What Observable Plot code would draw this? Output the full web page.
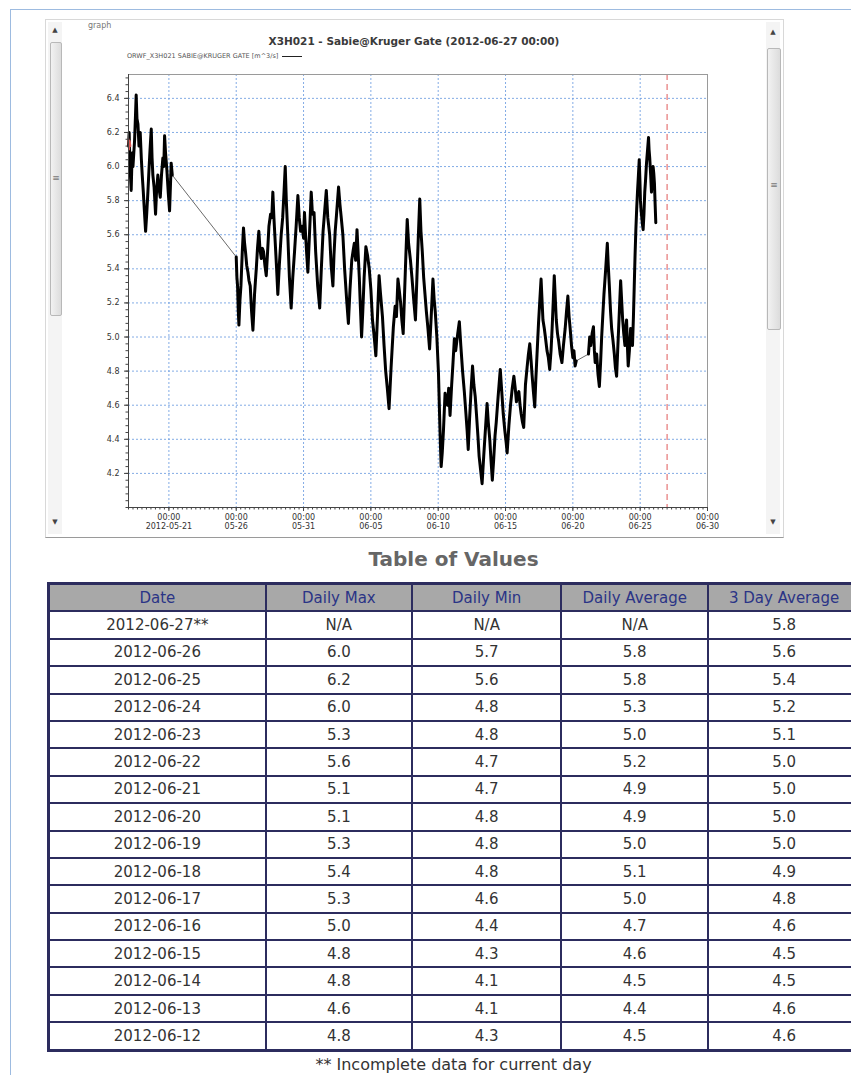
<!DOCTYPE html>
<html>
<head>
<meta charset="utf-8">
<script src="https://cdn.jsdelivr.net/npm/d3@7"></script>
<script src="https://cdn.jsdelivr.net/npm/@observablehq/plot@0.6"></script>
<style>
  html, body { margin: 0; padding: 0; background: #fff; }
  body { width: 851px; height: 1075px; overflow: hidden; position: relative; font-family: "DejaVu Sans", Verdana, sans-serif; }
  .abs { position: absolute; }
  #pageframe { left: 10px; top: 9px; width: 900px; height: 1100px; border-left: 1px solid #9dbbe0; border-top: 1px solid #9dbbe0; }
  #panel { left: 45px; top: 19px; width: 737px; height: 517px; border: 1px solid #d8d8d8; border-bottom: 1px solid #9a9a9a; }
  .sbar { width: 14px; background: #f4f4f4; }
  .thumb { background: linear-gradient(to right, #f2f2f2, #dcdcdc); border: 1px solid #b8b8b8; border-radius: 2px; }
  .grip { font-size: 9px; color: #777; text-align: center; width: 100%; }
  .arrow { font-size: 7px; color: #444; width: 14px; text-align: center; }
  #graphlbl { left: 88px; top: 21px; font-size: 8px; color: #777; }
  #title { left: 45px; width: 738px; top: 35px; text-align: center; font-size: 10.5px; font-weight: bold; color: #3a3a3a; }
  #legend { left: 127px; top: 52px; font-size: 6.5px; color: #555; white-space: nowrap; }
  #legend .sw { display: inline-block; width: 20px; height: 0; border-top: 1px solid #222; vertical-align: middle; margin-left: 4px; }
  #chart { left: 60px; top: 62px; }
  #tabtitle { left: 47px; width: 813px; top: 547px; text-align: center; font-size: 20px; font-weight: bold; color: #666; }
  table { position: absolute; left: 47px; top: 582px; width: 815px; border-collapse: collapse; border: 3px solid #2c2c5e; }
  th, td { border: 2px solid #2c2c5e; text-align: center; height: 25.4px; padding: 0; font-size: 15px; }
  th { background: #a8a8a8; color: #2b3486; font-weight: normal; }
  td { color: #333; background: #fff; }
  #foot { left: 47px; width: 813px; top: 1055px; text-align: center; font-size: 16px; color: #333; }
</style>
</head>
<body>
<div id="pageframe" class="abs"></div>
<div id="panel" class="abs"></div>

<div class="abs sbar" style="left:48px; top:22px; height:512px;"></div>
<div class="abs arrow" style="left:48px; top:26px;">▲</div>
<div class="abs thumb" style="left:50px; top:42px; width:10px; height:272px;"></div>
<div class="abs grip" style="left:50px; top:173px; width:12px;">≡</div>
<div class="abs arrow" style="left:48px; top:518px;">▼</div>

<div class="abs sbar" style="left:766px; top:22px; height:512px;"></div>
<div class="abs arrow" style="left:766px; top:28px;">▲</div>
<div class="abs thumb" style="left:767px; top:48px; width:12px; height:280px;"></div>
<div class="abs grip" style="left:767px; top:180px; width:14px;">≡</div>
<div class="abs arrow" style="left:766px; top:518px;">▼</div>

<div id="graphlbl" class="abs">graph</div>
<div id="title" class="abs">X3H021 - Sabie@Kruger Gate (2012-06-27 00:00)</div>
<div id="legend" class="abs">ORWF_X3H021 SABIE@KRUGER GATE [m^3/s]<span class="sw"></span></div>
<div id="chart" class="abs"></div>

<div id="tabtitle" class="abs">Table of Values</div>
<table id="tbl"></table>
<div id="foot" class="abs">** Incomplete data for current day</div>

<script>
// ---------------- chart data ----------------
const seriesStart = "2012-05-18T00:00Z";   // day offsets are counted from here
const currentTime = "2012-06-27T00:00Z";
const xDomain = ["2012-05-18T00:00Z", "2012-06-30T00:00Z"];
const yDomain = [4.0, 6.54];

const dayOffsets = [
  0.00,0.05,0.10,0.20,0.27,0.33,0.45,0.52,0.57,0.63,0.70,0.78,0.87,0.95,1.02,1.10,1.18,1.27,1.35,1.44,
  1.52,1.60,1.69,1.75,1.81,1.90,2.01,2.08,2.18,2.25,2.36,2.45,2.55,2.62,2.68,2.75,2.85,2.95,3.05,3.12,3.17,3.25,
  8.00,8.05,8.10,8.15,8.20,8.28,8.35,8.45,8.54,8.62,8.69,8.78,8.87,8.95,9.04,9.14,9.24,9.30,9.36,9.42,9.49,9.58,
  9.68,9.76,9.86,9.95,10.03,10.13,10.23,10.33,10.43,10.55,10.64,10.72,10.80,10.90,11.00,11.09,11.20,11.34,11.45,
  11.55,11.64,11.72,11.83,11.95,12.08,12.20,12.33,12.45,12.58,12.68,12.78,12.90,13.00,13.07,13.15,13.24,13.32,
  13.45,13.57,13.66,13.78,13.90,14.05,14.20,14.32,14.45,14.58,14.69,14.80,14.94,15.05,15.18,15.26,15.35,15.45,
  15.60,15.70,15.80,15.92,16.05,16.20,16.33,16.45,16.58,16.67,16.77,16.87,16.97,17.05,17.14,17.22,17.31,17.40,
  17.50,17.63,17.75,17.88,18.00,18.12,18.25,18.37,18.48,18.61,18.72,18.86,18.98,19.10,19.22,19.35,19.50,19.67,
  19.80,19.90,20.01,20.10,20.21,20.30,20.40,20.50,20.60,20.70,20.80,20.94,21.05,21.18,21.31,21.42,21.52,21.63,
  21.72,21.82,21.92,22.02,22.12,22.24,22.36,22.48,22.61,22.70,22.78,22.90,23.02,23.10,23.16,23.22,23.30,23.39,
  23.51,23.60,23.69,23.78,23.88,24.00,24.10,24.20,24.30,24.45,24.57,24.68,24.81,24.94,25.06,25.15,25.23,25.33,
  25.45,25.55,25.65,25.75,25.84,25.95,26.04,26.15,26.26,26.38,26.50,26.63,26.72,26.83,26.92,27.02,27.12,27.22,
  27.31,27.45,27.61,27.72,27.83,27.95,28.05,28.12,28.25,28.37,28.50,28.62,28.72,28.81,28.90,28.99,29.08,29.16,
  29.26,29.35,29.42,29.48,29.60,29.70,29.80,29.90,29.97,30.07,30.17,30.25,30.34,30.45,30.55,30.64,30.72,30.78,
  30.88,30.96,31.08,31.18,31.28,31.38,31.46,31.55,31.62,31.70,31.77,31.86,31.94,32.06,32.19,32.30,32.43,32.53,
  32.63,32.72,32.80,32.90,33.00,33.08,33.17,33.25,
  34.16,34.25,34.33,34.43,34.53,34.60,34.66,34.77,34.87,34.97,35.06,35.14,35.22,35.31,35.44,35.56,35.63,35.71,
  35.80,35.88,35.98,36.08,36.16,36.25,36.33,36.40,36.48,36.55,36.62,36.70,36.78,36.87,36.93,36.99,37.05,37.11,
  37.20,37.29,37.36,37.43,37.50,37.56,37.62,37.68,37.74,37.80,37.87,37.93,37.98,38.02,38.07,38.12,38.17,38.22,
  38.28,38.34,38.40,38.47,38.55,38.62,38.66,38.71,38.78,38.84,38.90,38.96,39.01,39.06,39.11,39.16
];
const flows = [
  6.12,6.20,6.02,5.86,6.08,6.00,6.15,6.30,6.42,6.28,6.25,6.12,6.20,6.05,5.95,5.85,5.74,5.62,5.72,5.85,
  5.98,6.10,6.22,6.05,5.95,5.88,5.72,5.85,5.95,5.88,5.82,5.95,6.05,6.00,6.18,6.08,5.98,5.85,5.74,5.90,6.02,5.95,
  5.47,5.35,5.30,5.16,5.07,5.22,5.30,5.50,5.64,5.55,5.50,5.42,5.38,5.33,5.30,5.15,5.04,5.14,5.25,5.32,5.40,5.52,
  5.62,5.52,5.46,5.52,5.50,5.42,5.36,5.50,5.65,5.72,5.70,5.85,5.70,5.55,5.40,5.25,5.42,5.60,5.70,
  5.85,6.00,5.80,5.60,5.35,5.17,5.35,5.50,5.65,5.83,5.70,5.62,5.65,5.58,5.73,5.60,5.48,5.38,
  5.62,5.85,5.72,5.73,5.50,5.30,5.17,5.40,5.62,5.75,5.86,5.70,5.60,5.42,5.30,5.48,5.62,5.72,
  5.88,5.78,5.70,5.60,5.40,5.22,5.08,5.28,5.45,5.50,5.55,5.45,5.63,5.50,5.35,5.18,5.00,5.15,
  5.35,5.53,5.48,5.40,5.28,5.10,5.00,4.89,5.10,5.36,5.25,5.12,4.95,4.80,4.70,4.58,4.82,5.06,
  5.18,5.12,5.34,5.28,5.20,5.10,5.02,5.25,5.48,5.69,5.55,5.45,5.35,5.22,5.10,5.35,5.58,5.81,
  5.62,5.50,5.35,5.25,5.15,5.05,4.93,5.12,5.34,5.22,5.15,5.00,4.79,4.55,4.38,4.24,4.32,4.45,
  4.67,4.62,4.60,4.70,4.54,4.72,4.85,4.99,4.92,5.02,5.09,4.95,4.80,4.68,4.55,4.45,4.34,4.52,
  4.70,4.83,4.72,4.65,4.55,4.42,4.30,4.22,4.14,4.30,4.45,4.61,4.50,4.40,4.28,4.16,4.28,4.42,
  4.50,4.65,4.81,4.68,4.55,4.45,4.38,4.32,4.48,4.60,4.70,4.77,4.70,4.62,4.66,4.68,4.60,4.55,
  4.50,4.47,4.60,4.72,4.82,4.90,4.96,4.86,4.78,4.68,4.59,4.75,4.90,5.08,5.22,5.34,5.20,5.10,
  5.05,5.00,4.92,4.88,4.81,4.92,5.05,5.22,5.36,5.22,5.10,5.02,4.98,4.90,4.85,4.95,5.05,5.15,
  5.24,5.12,5.05,4.95,4.88,4.92,4.83,4.86,
  4.90,5.00,4.95,5.02,5.06,4.92,4.85,4.90,4.78,4.71,4.85,5.00,5.12,5.25,5.40,5.55,5.42,5.30,
  5.15,5.05,4.98,4.90,4.82,4.77,4.92,5.05,5.20,5.33,5.22,5.10,5.02,4.95,5.05,5.10,4.95,4.83,
  4.92,5.05,5.00,4.95,5.12,5.30,5.48,5.63,5.75,5.85,5.95,6.04,5.92,5.80,5.74,5.70,5.66,5.63,
  5.72,5.85,5.92,6.02,6.10,6.17,6.10,6.05,5.95,5.85,5.92,6.00,5.96,5.90,5.78,5.67
];
// periods without recorded data (bridged by a straight connector in the chart)
const gaps = [[3.25, 8.00], [33.25, 34.16]];

// short red trace visible at the very start of the chart
const redDays  = [0.00, 0.04, 0.09, 0.14];
const redFlows = [6.16, 6.10, 6.15, 6.12];

const xTickDates  = ["2012-05-21","2012-05-26","2012-05-31","2012-06-05","2012-06-10","2012-06-15","2012-06-20","2012-06-25","2012-06-30"];
const xTickLabels = ["2012-05-21","05-26","05-31","06-05","06-10","06-15","06-20","06-25","06-30"];
const xTickTime   = "00:00";
const yTicks      = [4.2, 4.4, 4.6, 4.8, 5.0, 5.2, 5.4, 5.6, 5.8, 6.0, 6.2, 6.4];

// ---------------- table data ----------------
const tableHeaders = ["Date", "Daily Max", "Daily Min", "Daily Average", "3 Day Average"];
const tableDates   = ["2012-06-27**","2012-06-26","2012-06-25","2012-06-24","2012-06-23","2012-06-22","2012-06-21","2012-06-20",
                      "2012-06-19","2012-06-18","2012-06-17","2012-06-16","2012-06-15","2012-06-14","2012-06-13","2012-06-12"];
const dailyMax     = ["N/A","6.0","6.2","6.0","5.3","5.6","5.1","5.1","5.3","5.4","5.3","5.0","4.8","4.8","4.6","4.8"];
const dailyMin     = ["N/A","5.7","5.6","4.8","4.8","4.7","4.7","4.8","4.8","4.8","4.6","4.4","4.3","4.1","4.1","4.3"];
const dailyAvg     = ["N/A","5.8","5.8","5.3","5.0","5.2","4.9","4.9","5.0","5.1","5.0","4.7","4.6","4.5","4.4","4.5"];
const threeDayAvg  = ["5.8","5.6","5.4","5.2","5.1","5.0","5.0","5.0","5.0","4.9","4.8","4.6","4.5","4.5","4.6","4.6"];

// ---------------- build ----------------
const t0 = new Date(seriesStart).getTime();
const DAY = 864e5;
const toDate = d => new Date(t0 + d * DAY);
const points = dayOffsets.map((d, i) => ({
  t: toDate(d), v: flows[i], seg: gaps.filter(g => d >= g[1]).length
}));
const redPts = redDays.map((d, i) => ({t: toDate(d), v: redFlows[i]}));
const xTicks = xTickDates.map(s => new Date(s + "T00:00Z"));
const xDom = xDomain.map(s => new Date(s));
const minorX = d3.utcHour.every(8).range(xDom[0], new Date(xDom[1].getTime() + 1));
const minorY = d3.range(4.0, 6.54, 0.04).map(v => +v.toFixed(2));
const gridStyle = {stroke: "#6d9de0", strokeOpacity: 0.85, strokeDasharray: "2,2", strokeWidth: 1};

const chart = Plot.plot({
  width: 700,
  height: 480,
  marginLeft: 68,
  marginRight: 53,
  marginTop: 12,
  marginBottom: 35,
  style: {fontFamily: "DejaVu Sans, sans-serif", fontSize: "8px", color: "#333", background: "transparent", overflow: "visible"},
  x: {type: "utc", domain: xDom, axis: null, label: null},
  y: {domain: yDomain, axis: null, label: null},
  marks: [
    Plot.gridX({ticks: xTicks, ...gridStyle}),
    Plot.gridY({ticks: yTicks, ...gridStyle}),
    Plot.ruleX([new Date(currentTime)], {stroke: "#e88080", strokeWidth: 1.3, strokeDasharray: "6,4"}),
    Plot.frame({stroke: "#9a9a9a"}),
    Plot.line(points, {x: "t", y: "v", stroke: "#6a6a6a", strokeWidth: 1}),
    Plot.line(points, {x: "t", y: "v", z: "seg", stroke: "#000", strokeWidth: 3, strokeLinejoin: "round"}),
    Plot.line(redPts, {x: "t", y: "v", stroke: "#d9534f", strokeWidth: 2}),
    Plot.ruleX([xDom[0]], {stroke: "#444"}),
    Plot.ruleY([yDomain[0]], {stroke: "#444"}),
    Plot.axisY({ticks: minorY, tickSize: 2.5, tickFormat: () => "", stroke: "#444", label: null}),
    Plot.axisY({ticks: yTicks, tickSize: 4, tickPadding: 5, tickFormat: d => d.toFixed(1), stroke: "#444", fill: "#333", label: null}),
    Plot.axisX({ticks: minorX, tickSize: 2.5, tickFormat: () => "", stroke: "#444", label: null}),
    Plot.axisX({ticks: xTicks, tickSize: 4, tickPadding: 3, tickFormat: () => xTickTime, stroke: "#444", fill: "#333", label: null}),
    Plot.axisX({ticks: xTicks, tickSize: 0, tickPadding: 16, tickFormat: (d, i) => xTickLabels[i], fill: "#333", label: null})
  ]
});
document.getElementById("chart").appendChild(chart);

// table
const tbl = document.getElementById("tbl");
const hr = document.createElement("tr");
tableHeaders.forEach(h => { const th = document.createElement("th"); th.textContent = h; hr.appendChild(th); });
tbl.appendChild(hr);
tableDates.forEach((d, i) => {
  const tr = document.createElement("tr");
  [d, dailyMax[i], dailyMin[i], dailyAvg[i], threeDayAvg[i]].forEach(v => {
    const td = document.createElement("td"); td.textContent = v; tr.appendChild(td);
  });
  tbl.appendChild(tr);
});
// column widths
const colW = [219, 147, 150, 147, 152];
hr.querySelectorAll("th").forEach((th, i) => th.style.width = colW[i] + "px");
</script>
</body>
</html>
